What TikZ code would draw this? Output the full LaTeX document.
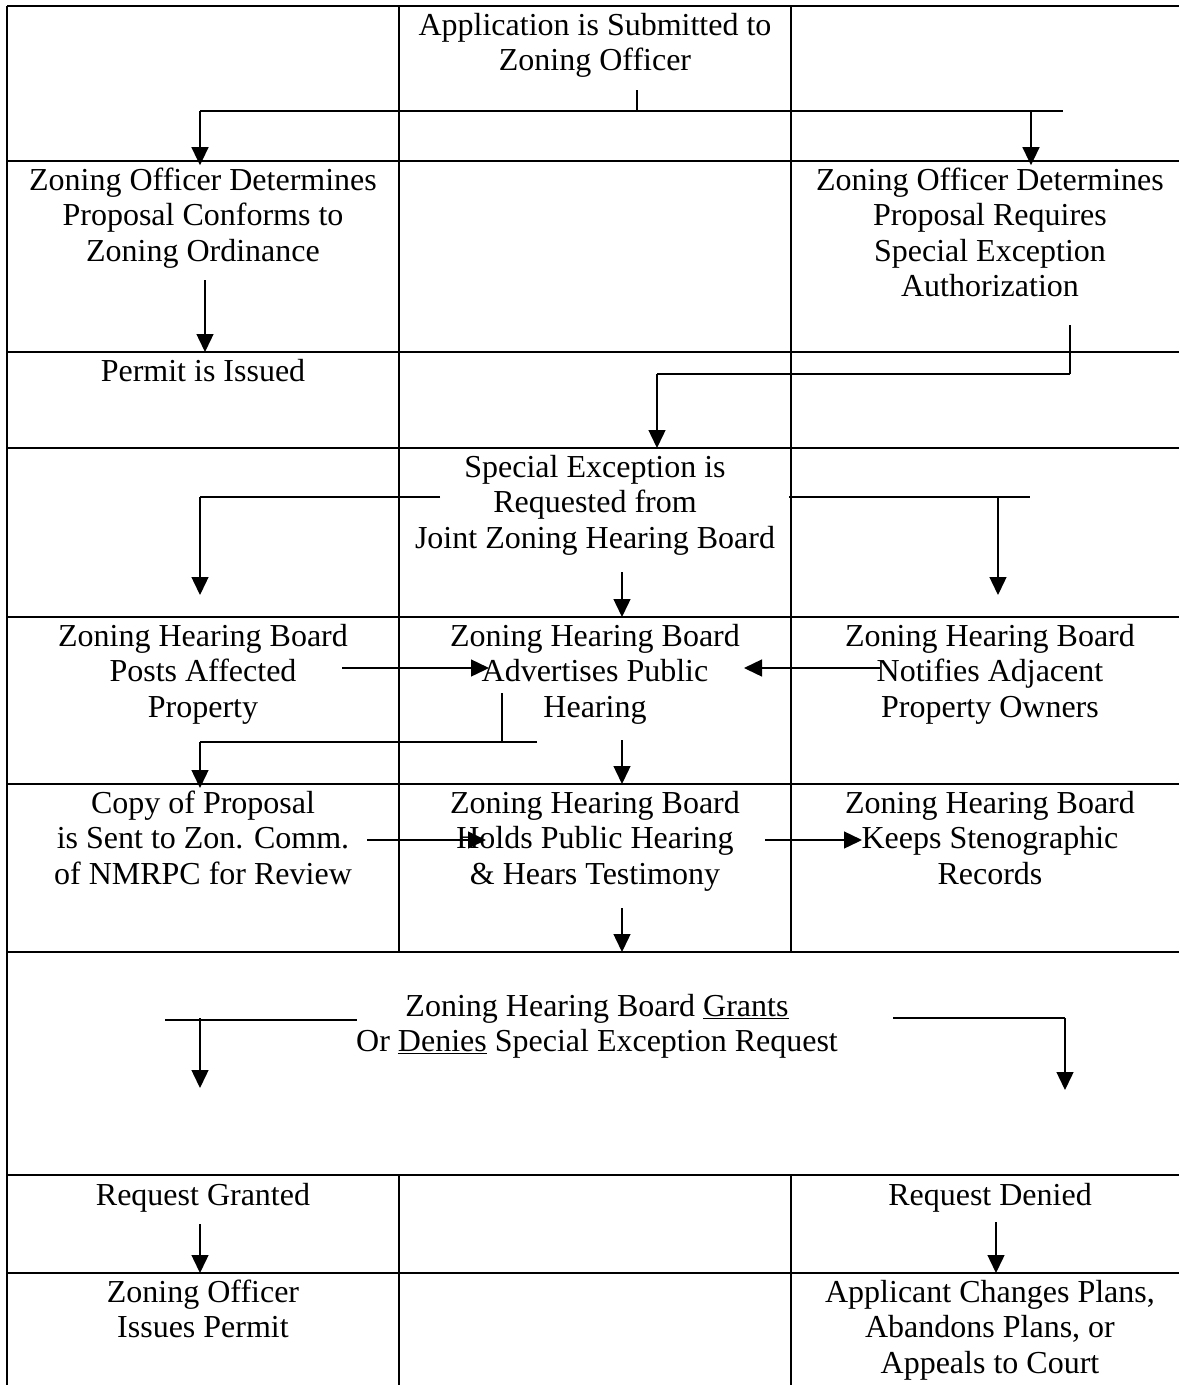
\documentclass[tikz,border=0pt]{standalone}
\usepackage{fontspec}
\setmainfont{Liberation Serif}
\usetikzlibrary{arrows.meta}

\newcommand\cellfont{\fontsize{32}{35.5}\selectfont}

\begin{document}
\begin{tikzpicture}[x=1pt,y=-1pt,
  rule/.style={line width=2.4pt},
  sep/.style={line width=1.4pt},
  link/.style={line width=1.4pt},
  bar/.style={line width=2.2pt},
  flow/.style={line width=1.4pt,-{Triangle[length=18pt,width=17pt]}},
  cell/.style={anchor=north,inner sep=0pt,align=center,font=\cellfont}]

\useasboundingbox (0,0) rectangle (1179,1385);

% table rules
\foreach \y in {6,161,352,448,617,784,952,1175,1273}
  \draw[rule] (7,\y) -- (1179,\y);
\draw[sep] (7,6) -- (7,1385);
\foreach \x in {399,791} {
  \draw[sep] (\x,6) -- (\x,952);
  \draw[sep] (\x,1175) -- (\x,1385);
}

% cell texts
\node[cell] (app) at (595,10.15) {\strut Application is Submitted to\\Zoning Officer};
\node[cell] (conf) at (203,165.15) {\strut Zoning Officer Determines\\Proposal Conforms to\\Zoning Ordinance};
\node[cell] (need) at (990,165.15) {\strut Zoning Officer Determines\\Proposal Requires\\Special Exception\\Authorization};
\node[cell] (permit) at (203,356.15) {\strut Permit is Issued};
\node[cell] (spex) at (595,452.15) {\strut Special Exception is\\Requested from\\Joint Zoning Hearing Board};
\node[cell] (posts) at (203,621.15) {\strut Zoning Hearing Board\\Posts Affected\\Property};
\node[cell] (adv) at (595,621.15) {\strut Zoning Hearing Board\\Advertises Public\\Hearing};
\node[cell] (notif) at (990,621.15) {\strut Zoning Hearing Board\\Notifies Adjacent\\Property Owners};
\node[cell] (copy) at (203,788.15) {\strut Copy of Proposal\\is Sent to Zon. Comm.\\of NMRPC for Review};
\node[cell] (holds) at (595,788.15) {\strut Zoning Hearing Board\\Holds Public Hearing\\\& Hears Testimony};
\node[cell] (keeps) at (990,788.15) {\strut Zoning Hearing Board\\Keeps Stenographic\\Records};
\node[cell] (decide) at (597,991.15) {\strut Zoning Hearing Board \underline{Grants}\\Or \underline{Denies} Special Exception Request};
\node[cell] (granted) at (203,1180.15) {\strut Request Granted};
\node[cell] (denied) at (990,1180.15) {\strut Request Denied};
\node[cell] (issue) at (203,1277.15) {\strut Zoning Officer\\Issues Permit};
\node[cell] (appeal) at (990,1277.15) {\strut Applicant Changes Plans,\\Abandons Plans, or\\Appeals to Court};

% connector points
\coordinate (a0) at (637,90);
\coordinate (a1) at (637,111);
\coordinate (aL) at (200,111);
\coordinate (aR) at (1063,111);
\coordinate (aR1) at (1031,111);
\coordinate (conf0) at (205,280);
\coordinate (need0) at (1070,325);
\coordinate (need1) at (1070,374);
\coordinate (need2) at (657,374);
\coordinate (sL0) at (440,497);
\coordinate (sL1) at (200,497);
\coordinate (sR0) at (789,497);
\coordinate (sR1) at (1030,497);
\coordinate (sR2) at (998,497);
\coordinate (sC0) at (622,572);
\coordinate (p0) at (342,668);
\coordinate (n0) at (880,668);
\coordinate (v0) at (502,693);
\coordinate (v1) at (502,742);
\coordinate (v2) at (537,742);
\coordinate (v3) at (200,742);
\coordinate (vC0) at (622,740);
\coordinate (c0) at (367,840);
\coordinate (h0) at (765,840);
\coordinate (hC0) at (622,908);
\coordinate (dL0) at (165,1020);
\coordinate (dL1) at (357,1020);
\coordinate (dL2) at (200,1018);
\coordinate (dR0) at (893,1018);
\coordinate (dR1) at (1065,1018);
\coordinate (g0) at (200,1224);
\coordinate (r0) at (996,1222);

% connectors
\draw[link] (a0) -- (a1);
\draw[bar] (aL) -- (aR);
\draw[flow] (aL) -- (aL |- conf.north);
\draw[flow] (aR1) -- (aR1 |- need.north);
\draw[flow] (conf0) -- (205,352);
\draw[link] (need0) -- (need1);
\draw[bar] (need1) -- (need2);
\draw[flow] (need2) -- (657,448);
\draw[bar] (sL0) -- (sL1);
\draw[flow] (sL1) -- (200,595);
\draw[bar] (sR0) -- (sR1);
\draw[flow] (sR2) -- (998,595);
\draw[flow] (sC0) -- (622,617);
\draw[flow] (p0) -- (489,668);
\draw[flow] (n0) -- (744,668);
\draw[link] (v0) -- (v1);
\draw[bar] (v2) -- (v3);
\draw[flow] (v3) -- (200,788);
\draw[flow] (vC0) -- (622,784);
\draw[flow] (c0) -- (486,840);
\draw[flow] (h0) -- (862,840);
\draw[flow] (hC0) -- (622,952);
\draw[bar] (dL0) -- (dL1);
\draw[flow] (dL2) -- (200,1088);
\draw[bar] (dR0) -- (dR1);
\draw[flow] (dR1) -- (1065,1090);
\draw[flow] (g0) -- (200,1273);
\draw[flow] (r0) -- (996,1273);
\end{tikzpicture}
\end{document}
